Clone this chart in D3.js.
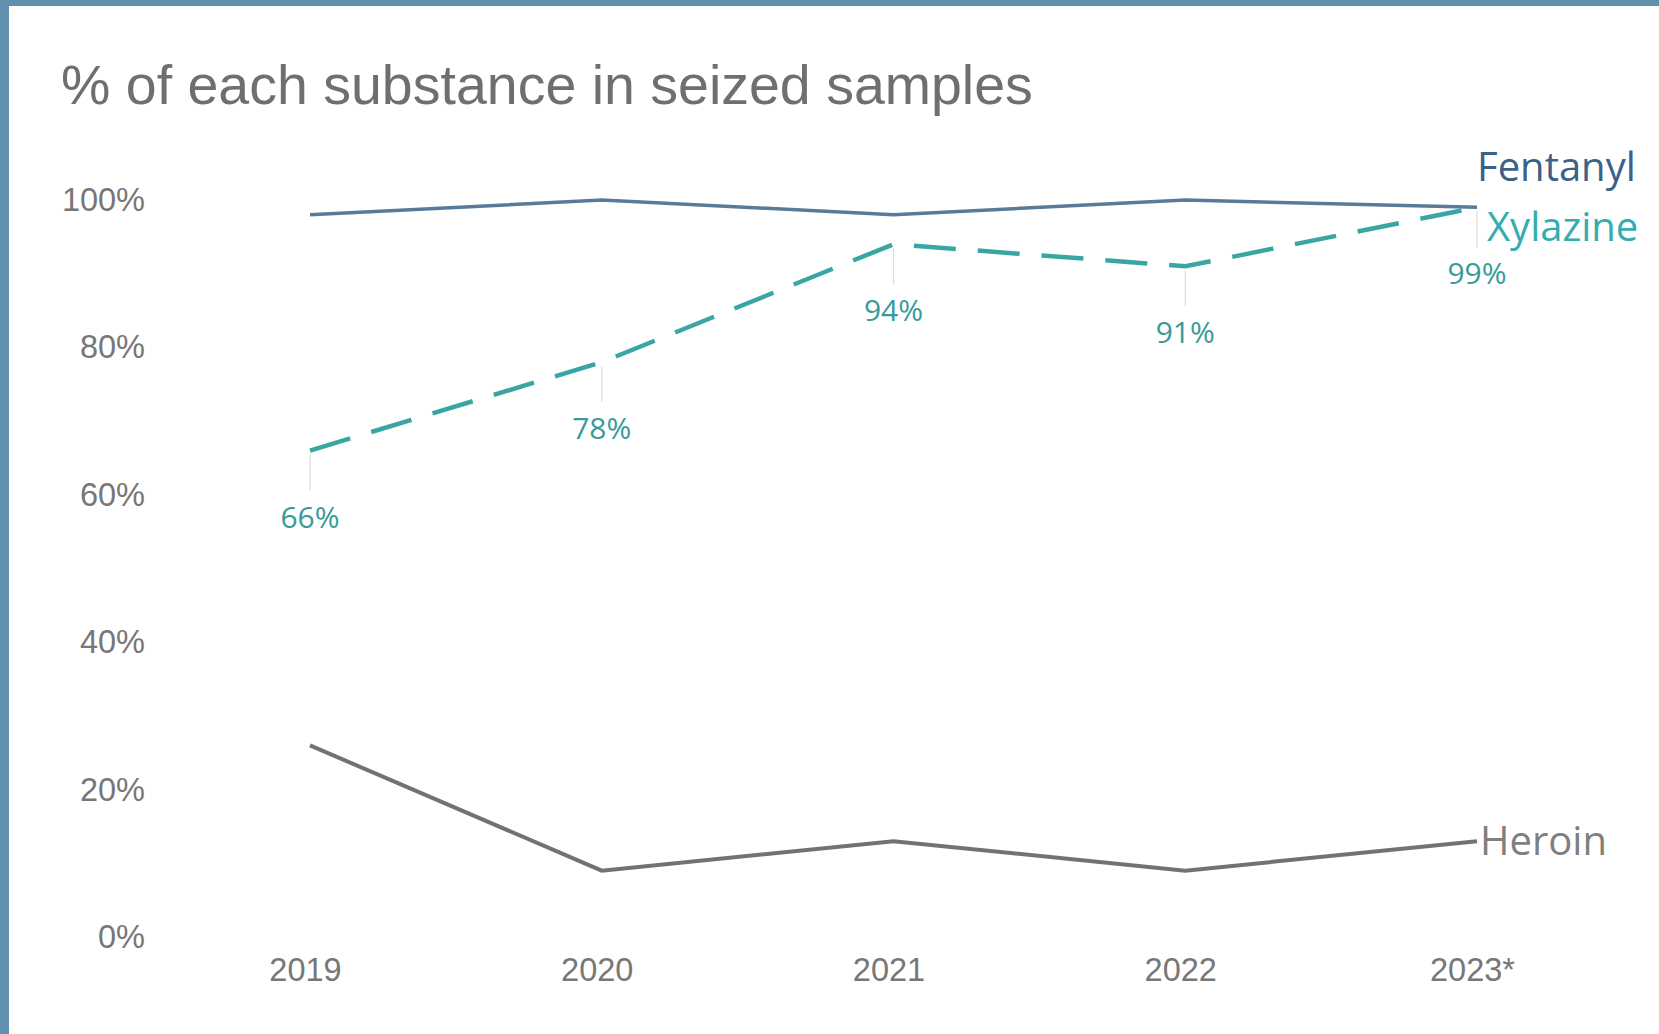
<!DOCTYPE html>
<html>
<head>
    <script src="https://cdn.jsdelivr.net/npm/d3@7"></script>
    <style>
        body { margin: 0; background: #fff; }
    </style>
</head>
<body>
    <div id="chart"></div>
    <script>
        // values
        var years = ["2019", "2020", "2021", "2022", "2023*"];
        var fentanyl = [98, 100, 98, 100, 99];
        var xylazine = [66, 78, 94, 91, 99];
        var heroin = [26, 9, 13, 9, 13];
        var yTicks = [0, 20, 40, 60, 80, 100];

        var W = 1659, H = 1034;

        var svg = d3.select("#chart")
            .append("svg")
                .attr("width", W)
                .attr("height", H);

        svg.append("rect").attr("width", W).attr("height", H).attr("fill", "#fff");
        // frame on left and top
        svg.append("rect").attr("x", 0).attr("y", 0).attr("width", 9).attr("height", H).attr("fill", "#6190ae");
        svg.append("rect").attr("x", 0).attr("y", 0).attr("width", W).attr("height", 6).attr("fill", "#6190ae");

        svg.append("text")
            .attr("x", 61)
            .attr("y", 104)
            .style("font-family", "'Liberation Sans', Arial, sans-serif")
            .style("font-size", "55.5px")
            .attr("fill", "#6f6f6f")
            .text("% of each substance in seized samples");

        var x = d3.scalePoint()
            .domain(years)
            .range([310, 1477]);

        var y = d3.scaleLinear()
            .domain([0, 100])
            .range([937, 200]);

        var yAxis = svg.append("g")
            .attr("transform", "translate(145,0)")
            .call(d3.axisLeft(y).tickValues(yTicks).tickSize(0).tickPadding(0)
                .tickFormat(function(d) { return d + "%"; }));
        yAxis.select(".domain").remove();
        yAxis.selectAll("text")
            .style("font-family", "'Liberation Sans', Arial, sans-serif")
            .style("font-size", "32.5px")
            .attr("fill", "#777");

        var xAxis = svg.append("g")
            .attr("transform", "translate(-5,958)")
            .call(d3.axisBottom(x).tickSize(0).tickPadding(0));
        xAxis.select(".domain").remove();
        xAxis.selectAll("text")
            .style("font-family", "'Liberation Sans', Arial, sans-serif")
            .style("font-size", "32.5px")
            .attr("fill", "#777");

        var line = d3.line()
            .x(function(d, i) { return x(years[i]); })
            .y(function(d) { return y(d); });

        svg.append("path")
            .datum(heroin)
            .attr("fill", "none")
            .attr("stroke", "#727272")
            .attr("stroke-width", 4)
            .attr("d", line);

        svg.append("path")
            .datum(fentanyl)
            .attr("fill", "none")
            .attr("stroke", "#587b99")
            .attr("stroke-width", 3.5)
            .attr("d", line);

        // leader lines for xylazine labels
        svg.selectAll(".leader")
            .data(xylazine)
            .enter().append("line")
                .attr("x1", function(d, i) { return x(years[i]); })
                .attr("x2", function(d, i) { return x(years[i]); })
                .attr("y1", function(d) { return y(d) + 4; })
                .attr("y2", function(d) { return y(d) + 40; })
                .attr("stroke", "#dcdcdc")
                .attr("stroke-width", 1.2);

        svg.append("path")
            .datum(xylazine)
            .attr("fill", "none")
            .attr("stroke", "#3aa6a3")
            .attr("stroke-width", 4.5)
            .attr("stroke-dasharray", "42,22")
            .attr("d", line);

        svg.selectAll(".xlab")
            .data(xylazine)
            .enter().append("text")
                .attr("x", function(d, i) { return x(years[i]); })
                .attr("y", function(d) { return y(d) + 77; })
                .attr("text-anchor", "middle")
                .style("font-family", "'Open Sans', sans-serif")
                .style("font-size", "30px")
                .attr("fill", "#379b9b")
                .text(function(d) { return d + "%"; });

        // series names at the right end
        var last = years.length - 1;
        var names = [
            { t: "Fentanyl", c: "#3a6189", dx: 0, y: y(fentanyl[last]) - 40 },
            { t: "Xylazine", c: "#33adb0", dx: 10, y: y(fentanyl[last]) + 20 },
            { t: "Heroin", c: "#7f7f7f", dx: 3, y: y(heroin[last]) }
        ];
        svg.selectAll(".name")
            .data(names)
            .enter().append("text")
                .attr("x", function(d) { return x(years[last]) + d.dx; })
                .attr("y", function(d) { return d.y; })
                .attr("dy", "0.35em")
                .style("font-family", "'Open Sans', sans-serif")
                .style("font-size", "40px")
                .attr("fill", function(d) { return d.c; })
                .text(function(d) { return d.t; });
    </script>
</body>
</html>
